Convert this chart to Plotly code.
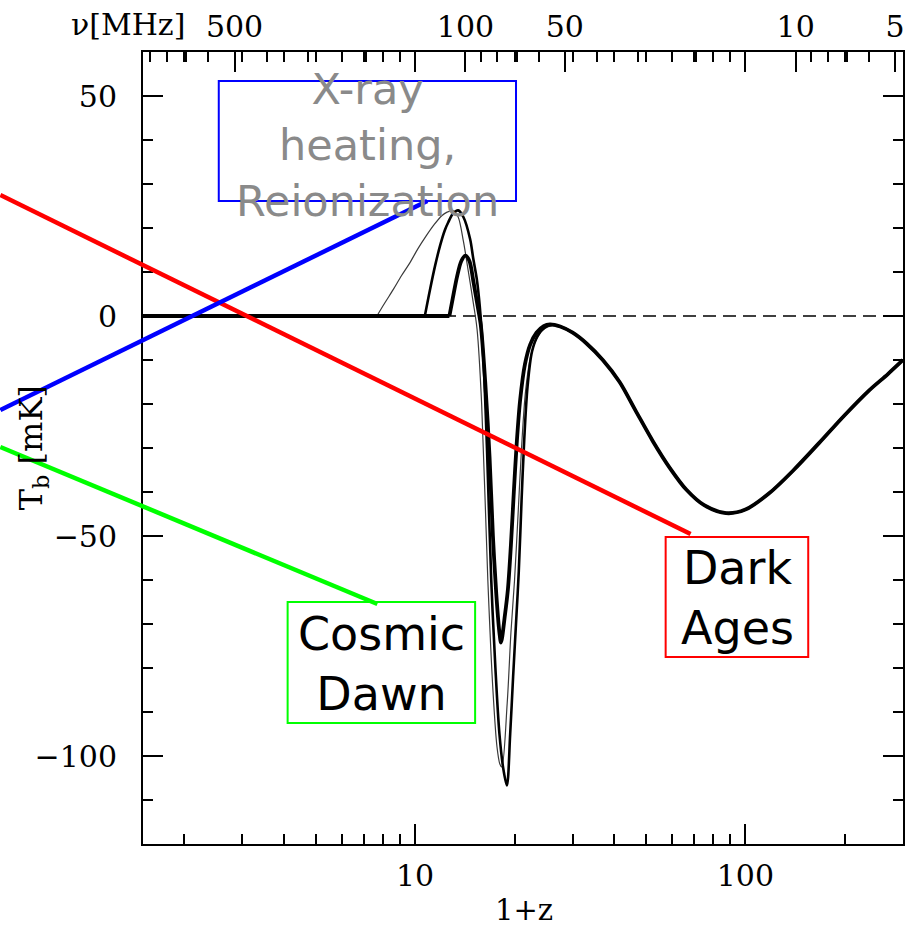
import math
import plotly.graph_objects as go

# 21-cm global brightness temperature T_b [mK] versus 1+z for three heating histories
one_plus_z_strong = [1.5, 12.7, 13.0, 13.4, 13.8, 14.2, 14.6, 15.0, 15.4, 15.8, 16.3, 16.8,
                     17.2, 17.6, 18.0, 18.2, 18.7, 19.1, 19.5, 19.9, 20.3, 20.8, 21.5, 22.3,
                     23.3, 24.5, 25.6, 27.5, 30.0, 33.1, 37.0, 41.6, 46.5, 52.5, 59.0, 66.3,
                     75.0, 87.4, 100.0, 118.0, 140.0, 167.0, 200.0, 237.0, 270.0, 300.0]
tb_strong = [0.0, 0.0, 4.0, 9.0, 12.5, 13.7, 12.5, 8.0, 3.0, -2.0, -15.0, -32.0,
             -50.0, -63.0, -72.0, -74.2, -68.0, -62.0, -52.0, -40.0, -29.0, -19.0, -11.0, -6.5,
             -3.8, -2.3, -1.9, -2.4, -3.8, -6.3, -10.0, -15.0, -21.5, -28.5, -34.5, -39.5,
             -43.0, -44.8, -44.0, -40.3, -35.0, -28.9, -22.5, -16.9, -13.2, -10.0]

one_plus_z_mid = [1.5, 10.7, 11.1, 11.5, 11.9, 12.3, 12.6, 13.0, 13.5, 14.0, 14.67, 15.0,
                  15.37, 15.7, 16.1, 16.5, 17.0, 17.5, 18.0, 18.5, 18.96, 19.4, 19.8, 20.2,
                  20.6, 21.0, 21.4, 21.9, 22.6, 23.5, 24.7, 26.0, 27.5]
tb_mid = [0.0, 0.0, 6.1, 11.5, 16.0, 19.5, 21.3, 23.2, 24.0, 22.5, 17.5, 13.0,
          8.4, 2.0, -10.0, -30.0, -60.0, -80.0, -95.0, -103.0, -106.7, -95.0, -82.0, -70.0,
          -58.0, -42.0, -28.0, -16.0, -8.0, -4.5, -2.6, -2.0, -2.4]

one_plus_z_weak = [1.5, 7.66, 8.1, 8.6, 9.1, 9.66, 10.2, 10.8, 11.4, 12.04, 12.5, 13.06,
                   13.5, 14.0, 14.5, 15.0, 15.4, 15.9, 16.6, 17.2, 17.7, 18.05, 18.3, 19.0,
                   19.5, 20.0, 20.5, 21.0, 21.6, 22.4, 23.4, 24.5, 26.0, 27.5]
tb_weak = [0.0, 0.0, 3.0, 6.1, 9.2, 12.2, 15.3, 18.2, 20.7, 22.8, 23.6, 23.9,
           22.5, 17.0, 10.0, 3.0, -3.0, -20.0, -60.0, -85.0, -98.0, -101.8, -102.5, -88.0,
           -72.0, -60.0, -45.0, -30.0, -17.0, -9.0, -5.0, -3.0, -2.2, -2.4]

# frequency axis: nu = 1420 MHz / (1+z)
nu_rest = 1420.0
nu_major = [500, 100, 50, 10, 5]
nu_minor = [900, 800, 700, 600, 400, 300, 200, 90, 80, 70, 60, 40, 30, 20, 9, 8, 7, 6]
z_major = [10, 100]
z_minor = [2, 3, 4, 5, 6, 7, 8, 9, 20, 30, 40, 50, 60, 70, 80, 90, 200]

x_range = [1.5, 300.0]
y_range = [-120, 60]

serif = "DejaVu Serif"
sans = "DejaVu Sans"
tick_size = 30


def split_curve(xs, ys):
    """Split a curve into its flat zero plateau and the varying part."""
    k = max(i for i, y in enumerate(ys) if y == 0.0 and all(v == 0.0 for v in ys[:i + 1]))
    return (xs[:k + 1], ys[:k + 1]), (xs[k:], ys[k:])


def tail_after(xs, ys, start):
    px = [x for x in xs if x > start]
    py = [y for x, y in zip(xs, ys) if x > start]
    return px, py


tx, ty = tail_after(one_plus_z_strong, tb_strong, 27.5)

fig = go.Figure()

# zero reference
fig.add_trace(go.Scatter(x=x_range, y=[0, 0], mode="lines",
                         line=dict(color="black", width=1.6, dash="13px,7px"),
                         hoverinfo="skip", showlegend=False))

curves = [
    (one_plus_z_weak + tx, tb_weak + ty, "#3a3a3a", 1.2),
    (one_plus_z_mid + tx, tb_mid + ty, "black", 2.6),
    (one_plus_z_strong, tb_strong, "black", 3.8),
]
for xs, ys, col, w in curves:
    (fx, fy), (vx, vy) = split_curve(xs, ys)
    fig.add_trace(go.Scatter(x=fx, y=fy, mode="lines",
                             line=dict(color=col, width=w), showlegend=False))
    fig.add_trace(go.Scatter(x=vx, y=vy, mode="lines",
                             line=dict(color=col, width=w, shape="spline", smoothing=0.9),
                             showlegend=False))

# invisible trace carrying the top frequency axis
fig.add_trace(go.Scatter(x=x_range, y=[0, 0], xaxis="x2", mode="lines",
                         line=dict(width=0), hoverinfo="skip", showlegend=False))

lr = [math.log10(x_range[0]), math.log10(x_range[1])]

fig.update_layout(
    width=907, height=927,
    margin=dict(l=143, r=2, t=52, b=83),
    paper_bgcolor="white", plot_bgcolor="white",
    font=dict(family=serif, size=tick_size, color="black"),
    xaxis=dict(
        type="log", range=lr, showgrid=False, zeroline=False,
        showline=True, linecolor="black", linewidth=2, mirror=True,
        ticks="inside", ticklen=20, tickwidth=2, tickcolor="black",
        tickmode="array", tickvals=z_major, ticktext=[str(v) for v in z_major],
        ticklabelstandoff=4,
        minor=dict(ticks="inside", ticklen=10, tickwidth=2, tickcolor="black",
                   tickmode="array", tickvals=z_minor),
        tickfont=dict(family=serif, size=tick_size),
    ),
    xaxis2=dict(
        type="log", range=lr, overlaying="x", side="top", showgrid=False,
        zeroline=False, showline=False,
        ticks="inside", ticklen=20, tickwidth=2, tickcolor="black",
        tickmode="array",
        tickvals=[nu_rest / v for v in nu_major] + z_major,
        ticktext=[str(v) for v in nu_major] + ["", ""],
        ticklabelstandoff=8,
        minor=dict(ticks="inside", ticklen=10, tickwidth=2, tickcolor="black",
                   tickmode="array",
                   tickvals=[nu_rest / v for v in nu_minor] + z_minor),
        tickfont=dict(family=serif, size=tick_size),
    ),
    yaxis=dict(
        range=y_range, showgrid=False, zeroline=False,
        showline=True, linecolor="black", linewidth=2, mirror="ticks",
        ticks="inside", ticklen=20, tickwidth=2, tickcolor="black",
        tickmode="array", tickvals=[-100, -50, 0, 50],
        ticklabelstandoff=18,
        minor=dict(ticks="inside", ticklen=10, tickwidth=2, tickcolor="black",
                   dtick=10, tick0=0),
        tickfont=dict(family=serif, size=tick_size),
    ),
)

# axis titles
fig.add_annotation(text="1+z", xref="paper", yref="paper", x=0.5013, y=-0.083,
                   showarrow=False, font=dict(family=serif, size=29),
                   xanchor="center", yanchor="middle")
fig.add_annotation(text="T<sub>b</sub> [mK]", xref="paper", yref="paper",
                   x=-0.1444, y=0.5, textangle=-90, showarrow=False,
                   font=dict(family=serif, size=32), xanchor="center", yanchor="middle")
fig.add_annotation(text="ν[MHz]", xref="paper", yref="paper", x=-0.0197, y=1.0345,
                   showarrow=False, font=dict(family=serif, size=30),
                   xanchor="center", yanchor="middle")

# era labels: pointer line, frame and caption
eras = [
    dict(line=(-0.1877, 0.8194, 0.7205, 0.3914), box=(0.6877, 0.2361, 0.8753, 0.3876),
         color="#ff0000", text="Dark<br>Ages", pos=(0.7822, 0.3106), tcolor="black",
         size=46),
    dict(line=(-0.1877, 0.5480, 0.3740, 0.8119), box=(0.0997, 0.8119, 0.4908, 0.9634),
         color="#0000ff", text="X-ray<br>heating,<br>Reionization", pos=(0.2953, 0.8826),
         tcolor="#8a8a8a", size=43),
    dict(line=(-0.1877, 0.5013, 0.3084, 0.3030), box=(0.1903, 0.1528, 0.4370, 0.3056),
         color="#00ff00", text="Cosmic<br>Dawn", pos=(0.3137, 0.2273), tcolor="black",
         size=46),
]
for e in eras:
    x0, y0, x1, y1 = e["line"]
    fig.add_shape(type="line", xref="paper", yref="paper", x0=x0, y0=y0, x1=x1, y1=y1,
                  line=dict(color=e["color"], width=4.5), layer="above")
    bx0, by0, bx1, by1 = e["box"]
    fig.add_shape(type="rect", xref="paper", yref="paper", x0=bx0, y0=by0, x1=bx1, y1=by1,
                  line=dict(color=e["color"], width=2), fillcolor="rgba(0,0,0,0)",
                  layer="above")
    fig.add_annotation(text=e["text"], xref="paper", yref="paper",
                       x=e["pos"][0], y=e["pos"][1], showarrow=False,
                       font=dict(family=sans, size=e["size"], color=e["tcolor"]),
                       xanchor="center", yanchor="middle", align="center")

fig.write_html("out.html")
